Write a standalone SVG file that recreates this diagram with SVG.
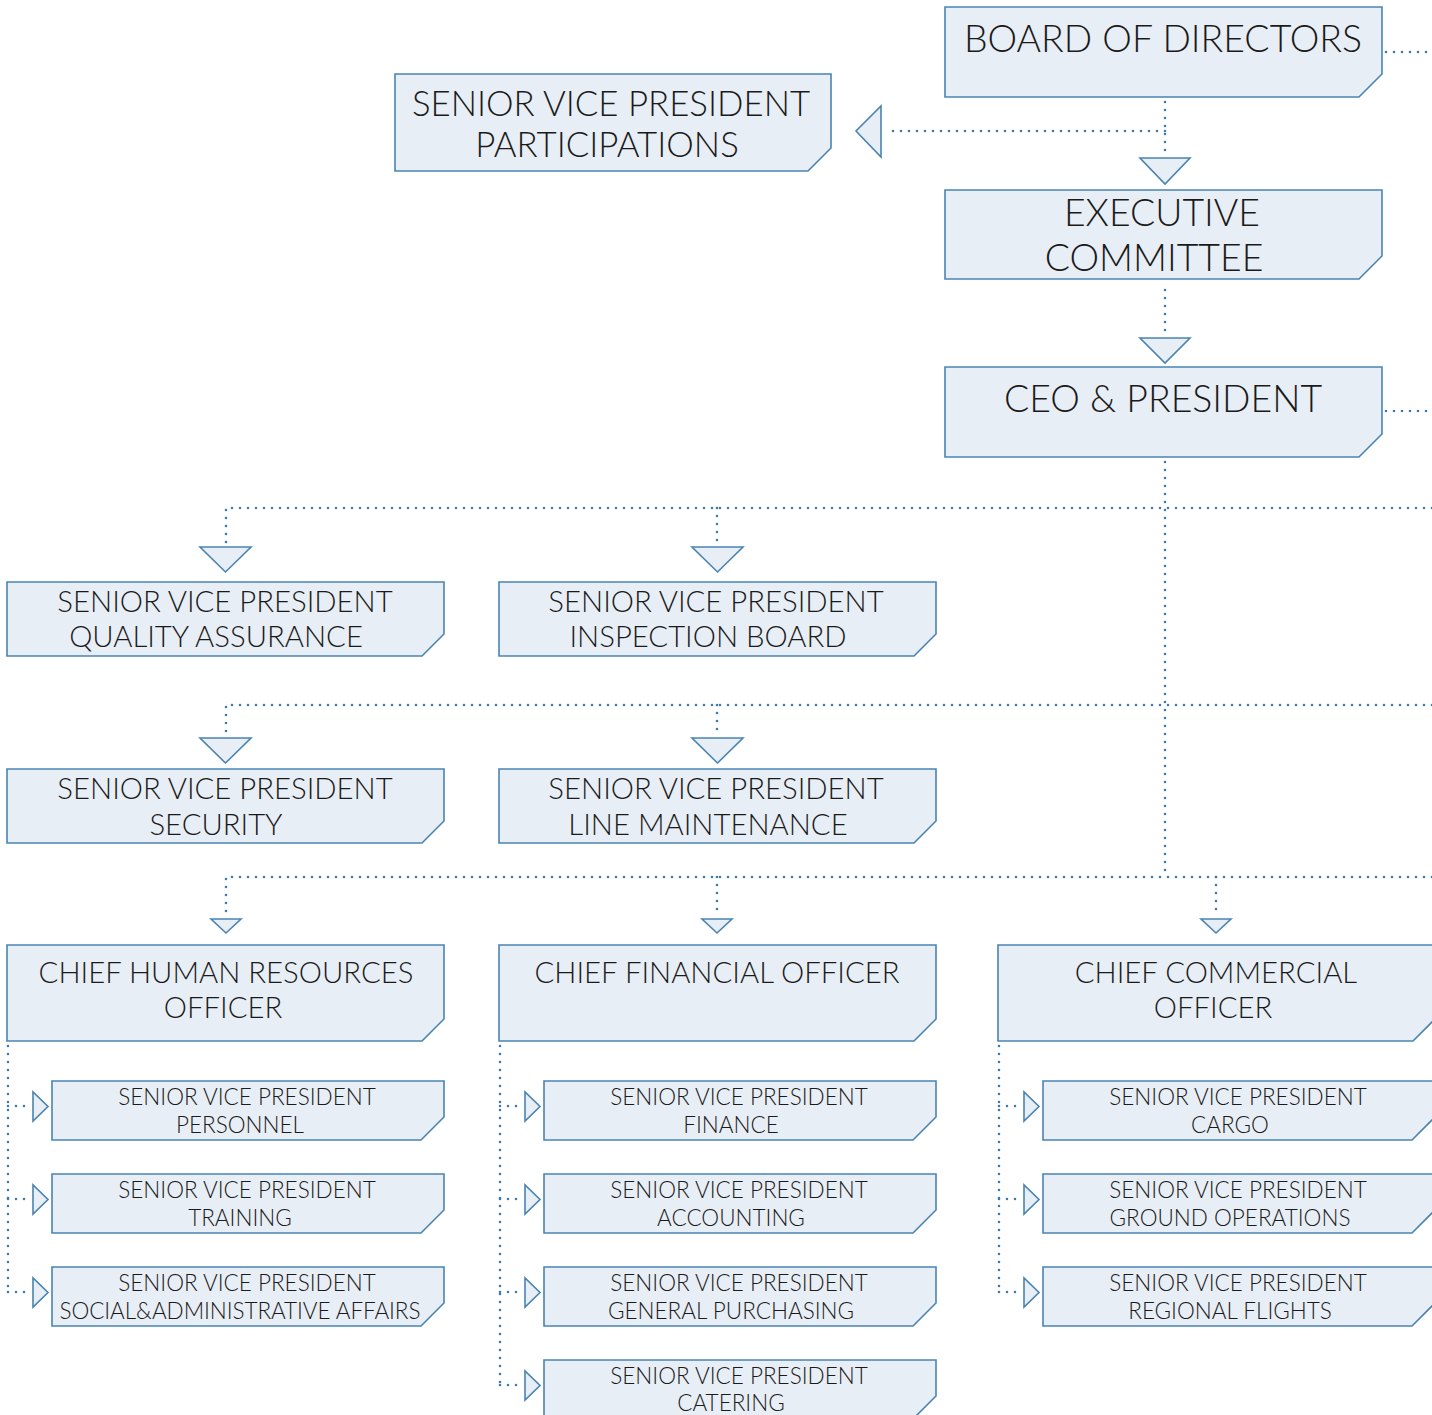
<svg xmlns="http://www.w3.org/2000/svg" width="1432" height="1415" viewBox="0 0 1432 1415">
<style>
.box{fill:#e8eef5;stroke:#4a84b2;stroke-width:1.6}
.tri{fill:#e8eef5;stroke:#4a84b2;stroke-width:1.6;stroke-linejoin:miter}
.dot{fill:none;stroke:#3b7bab;stroke-width:2.6;stroke-linecap:round;stroke-dasharray:0 8}
text{font-family:Lato,"Liberation Sans",sans-serif;font-weight:300;fill:#1a1a1a;text-anchor:middle}
.t1{font-size:37.4px}
.t1b{font-size:34.8px}
.t2{font-size:29.3px}
.t3{font-size:22.5px}
</style>
<rect width="1432" height="1415" fill="#ffffff"/>
<g id="connectors">
<path class="dot" d="M1386 52 H1432"/>
<path class="dot" d="M1165 102 V156"/>
<path class="dot" d="M1165 131 H885"/>
<path class="dot" d="M1165 290 V336"/>
<path class="dot" d="M1386 411 H1432"/>
<path class="dot" d="M1165 462 V877"/>
<path class="dot" d="M1432 508 H226 V544"/>
<path class="dot" d="M717 508 V544"/>
<path class="dot" d="M1432 705 H226 V735"/>
<path class="dot" d="M717 705 V735"/>
<path class="dot" d="M1432 877 H226 V915"/>
<path class="dot" d="M717 877 V915"/>
<path class="dot" d="M1216 877 V915"/>
<path class="dot" d="M8 1046 V1292"/>
<path class="dot" d="M8 1106 H32 M8 1199 H32 M8 1292 H32"/>
<path class="dot" d="M500 1046 V1385"/>
<path class="dot" d="M500 1106 H524 M500 1199 H524 M500 1292 H524 M500 1385 H524"/>
<path class="dot" d="M999 1046 V1292"/>
<path class="dot" d="M999 1106 H1023 M999 1199 H1023 M999 1292 H1023"/>
<polygon class="tri" points="1140,158 1190,158 1165,184"/>
<polygon class="tri" points="881,106 881,157 856,131"/>
<polygon class="tri" points="1140,338 1190,338 1165,363"/>
<polygon class="tri" points="200,547 251,547 225.5,572"/>
<polygon class="tri" points="692,547 743,547 717.5,572"/>
<polygon class="tri" points="200,738 251,738 225.5,763"/>
<polygon class="tri" points="692,738 743,738 717.5,763"/>
<polygon class="tri" points="211,919 241,919 226,933"/>
<polygon class="tri" points="702,919 732,919 717,933"/>
<polygon class="tri" points="1201,919 1231,919 1216,933"/>
<polygon class="tri" points="33,1092 33,1121 48,1106.5"/>
<polygon class="tri" points="33,1185 33,1214 48,1199.5"/>
<polygon class="tri" points="33,1278 33,1307 48,1292.5"/>
<polygon class="tri" points="525,1092 525,1121 540,1106.5"/>
<polygon class="tri" points="525,1185 525,1214 540,1199.5"/>
<polygon class="tri" points="525,1278 525,1307 540,1292.5"/>
<polygon class="tri" points="525,1371 525,1400 540,1385.5"/>
<polygon class="tri" points="1024,1092 1024,1121 1039,1106.5"/>
<polygon class="tri" points="1024,1185 1024,1214 1039,1199.5"/>
<polygon class="tri" points="1024,1278 1024,1307 1039,1292.5"/>
</g>
<g id="board"><path class="box" d="M945 7 H1382 V74 L1359 97 H945 Z"/><text class="t1" x="1163" y="52">BOARD OF DIRECTORS</text></g>
<g id="svp-participations"><path class="box" d="M395 74 H831 V148 L808 171 H395 Z"/><text class="t1b" x="611" y="116">SENIOR VICE PRESIDENT</text><text class="t1b" x="607" y="157">PARTICIPATIONS</text></g>
<g id="executive-committee"><path class="box" d="M945 190 H1382 V256 L1359 279 H945 Z"/><text class="t1" x="1162" y="226">EXECUTIVE</text><text class="t1" x="1154" y="271">COMMITTEE</text></g>
<g id="ceo"><path class="box" d="M945 367 H1382 V434 L1359 457 H945 Z"/><text class="t1" x="1163" y="412">CEO &amp; PRESIDENT</text></g>
<g id="svp-quality"><path class="box" d="M7 582 H444 V634 L422 656 H7 Z"/><text class="t2" x="225" y="612">SENIOR VICE PRESIDENT</text><text class="t2" x="216" y="647">QUALITY ASSURANCE</text></g>
<g id="svp-inspection"><path class="box" d="M499 582 H936 V634 L914 656 H499 Z"/><text class="t2" x="716" y="612">SENIOR VICE PRESIDENT</text><text class="t2" x="708" y="647">INSPECTION BOARD</text></g>
<g id="svp-security"><path class="box" d="M7 769 H444 V821 L422 843 H7 Z"/><text class="t2" x="225" y="799">SENIOR VICE PRESIDENT</text><text class="t2" x="216" y="835">SECURITY</text></g>
<g id="svp-line-maintenance"><path class="box" d="M499 769 H936 V821 L914 843 H499 Z"/><text class="t2" x="716" y="799">SENIOR VICE PRESIDENT</text><text class="t2" x="708" y="835">LINE MAINTENANCE</text></g>
<g id="chro"><path class="box" d="M7 945 H444 V1019 L422 1041 H7 Z"/><text class="t2" x="226" y="983">CHIEF HUMAN RESOURCES</text><text class="t2" x="223" y="1018">OFFICER</text></g>
<g id="cfo"><path class="box" d="M499 945 H936 V1019 L914 1041 H499 Z"/><text class="t2" x="717" y="983">CHIEF FINANCIAL OFFICER</text></g>
<g id="cco"><path class="box" d="M998 945 H1435 V1019 L1413 1041 H998 Z"/><text class="t2" x="1216" y="983">CHIEF COMMERCIAL</text><text class="t2" x="1213" y="1018">OFFICER</text></g>
<g id="svp-personnel"><path class="box" d="M52 1081 H444 V1117 L421 1140 H52 Z"/><text class="t3" x="247" y="1105">SENIOR VICE PRESIDENT</text><text class="t3" x="240" y="1133">PERSONNEL</text></g>
<g id="svp-training"><path class="box" d="M52 1174 H444 V1210 L421 1233 H52 Z"/><text class="t3" x="247" y="1198">SENIOR VICE PRESIDENT</text><text class="t3" x="240" y="1226">TRAINING</text></g>
<g id="svp-social"><path class="box" d="M52 1267 H444 V1303 L421 1326 H52 Z"/><text class="t3" x="247" y="1291">SENIOR VICE PRESIDENT</text><text class="t3" x="240" y="1319" textLength="361">SOCIAL&amp;ADMINISTRATIVE AFFAIRS</text></g>
<g id="svp-finance"><path class="box" d="M544 1081 H936 V1117 L913 1140 H544 Z"/><text class="t3" x="739" y="1105">SENIOR VICE PRESIDENT</text><text class="t3" x="731" y="1133">FINANCE</text></g>
<g id="svp-accounting"><path class="box" d="M544 1174 H936 V1210 L913 1233 H544 Z"/><text class="t3" x="739" y="1198">SENIOR VICE PRESIDENT</text><text class="t3" x="731" y="1226">ACCOUNTING</text></g>
<g id="svp-purchasing"><path class="box" d="M544 1267 H936 V1303 L913 1326 H544 Z"/><text class="t3" x="739" y="1291">SENIOR VICE PRESIDENT</text><text class="t3" x="731" y="1319">GENERAL PURCHASING</text></g>
<g id="svp-catering"><path class="box" d="M544 1360 H936 V1396 L913 1419 H544 Z"/><text class="t3" x="739" y="1384">SENIOR VICE PRESIDENT</text><text class="t3" x="731" y="1411">CATERING</text></g>
<g id="svp-cargo"><path class="box" d="M1043 1081 H1435 V1117 L1412 1140 H1043 Z"/><text class="t3" x="1238" y="1105">SENIOR VICE PRESIDENT</text><text class="t3" x="1230" y="1133">CARGO</text></g>
<g id="svp-ground"><path class="box" d="M1043 1174 H1435 V1210 L1412 1233 H1043 Z"/><text class="t3" x="1238" y="1198">SENIOR VICE PRESIDENT</text><text class="t3" x="1230" y="1226">GROUND OPERATIONS</text></g>
<g id="svp-regional"><path class="box" d="M1043 1267 H1435 V1303 L1412 1326 H1043 Z"/><text class="t3" x="1238" y="1291">SENIOR VICE PRESIDENT</text><text class="t3" x="1230" y="1319">REGIONAL FLIGHTS</text></g>
</svg>
